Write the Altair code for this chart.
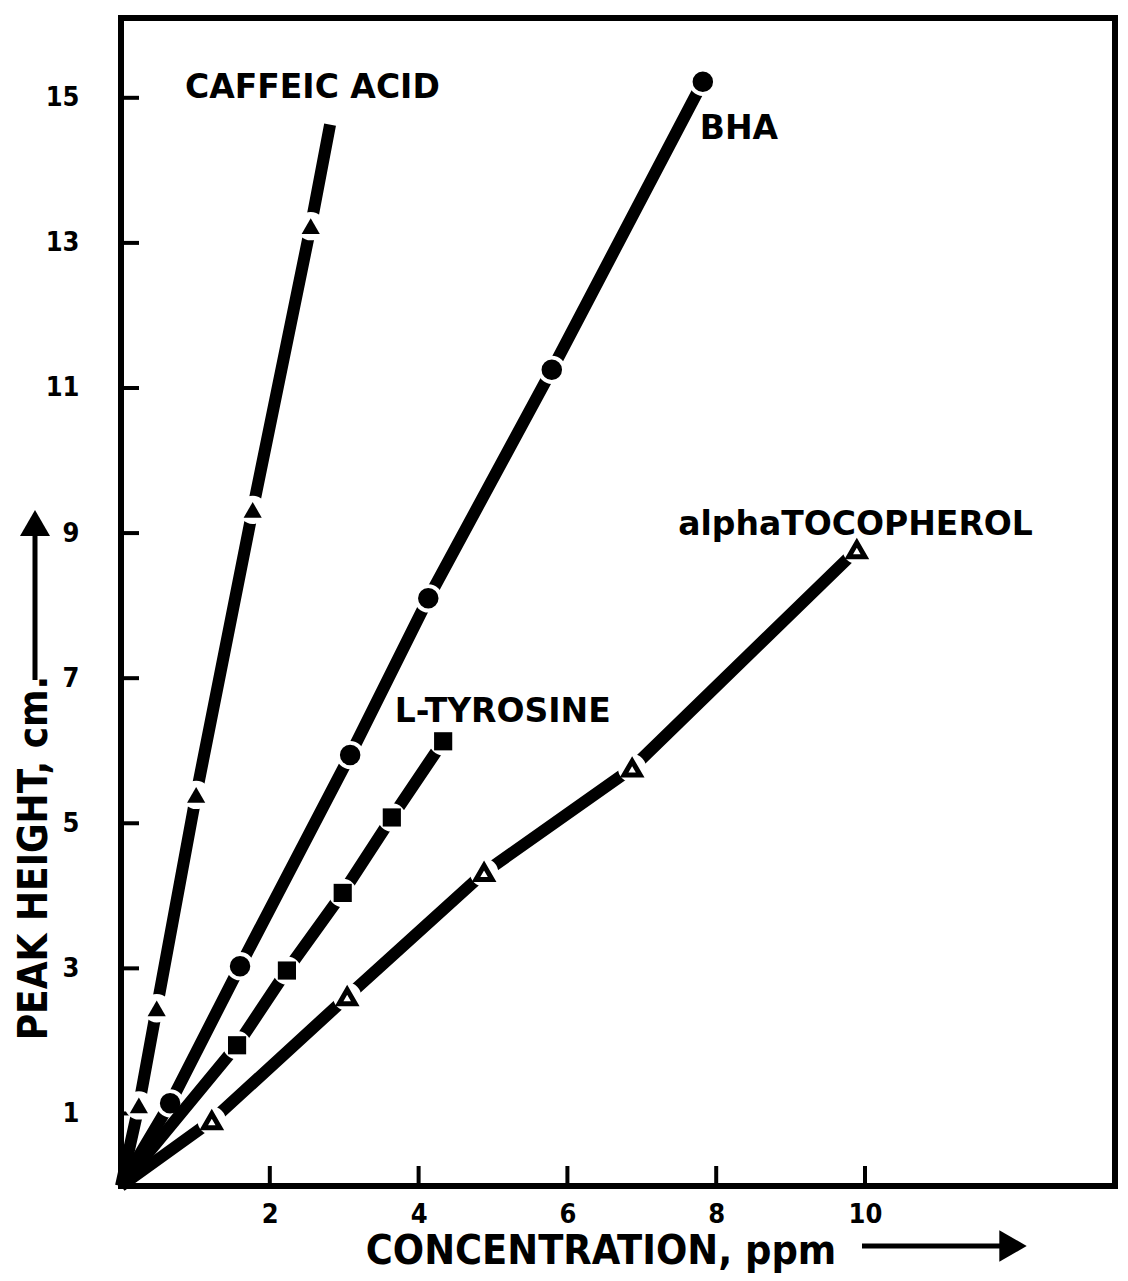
import altair as alt
import pandas as pd

# ---- data ----
caffeic_x = [0.24, 0.48, 1.01, 1.77, 2.55]
caffeic_y = [1.11, 2.45, 5.39, 9.32, 13.23]
caffeic_line_end_x = [2.81]
caffeic_line_end_y = [14.63]

bha_x = [0.66, 1.60, 3.08, 4.13, 5.79, 7.82]
bha_y = [1.14, 3.03, 5.94, 8.10, 11.25, 15.22]

tyr_x = [1.56, 2.23, 2.98, 3.64, 4.33]
tyr_y = [1.94, 2.97, 4.04, 5.08, 6.13]

toc_x = [1.22, 3.04, 4.88, 6.87, 9.89]
toc_y = [0.90, 2.61, 4.32, 5.76, 8.77]

x_ticks = [2, 4, 6, 8, 10]
y_ticks = [1, 3, 5, 7, 9, 11, 13, 15]

label_text = ["CAFFEIC ACID", "BHA", "L-TYROSINE", "alphaTOCOPHEROL"]
label_x = [0.86, 7.78, 3.68, 7.49]
label_y = [15.14, 14.57, 6.53, 9.11]

LABEL_FONT = "DejaVu Sans"
NARROW_FONT = "DejaVu Sans Condensed, Liberation Sans Narrow, DejaVu Sans"

def pts(xs, ys, name):
    return pd.DataFrame({"x": xs, "y": ys, "series": name})

def line_df(xs, ys, name, ex=None, ey=None):
    lx = [0.0] + list(xs) + (list(ex) if ex else [])
    ly = [0.0] + list(ys) + (list(ey) if ey else [])
    return pd.DataFrame({"x": lx, "y": ly, "series": name})

X = alt.X("x:Q",
          scale=alt.Scale(domain=[0, 13.36], nice=False, zero=False),
          axis=alt.Axis(values=x_ticks, ticks=False, domain=False, grid=False,
                        labelFont=NARROW_FONT, labelFontSize=27, labelFontWeight="bold",
                        labelColor="black", labelPadding=15, title=None))
Y = alt.Y("y:Q",
          scale=alt.Scale(domain=[0, 16.1], nice=False, zero=False),
          axis=alt.Axis(values=y_ticks, ticks=False, domain=False, grid=False,
                        labelFont=NARROW_FONT, labelFontSize=27, labelFontWeight="bold",
                        labelColor="black", labelPadding=42, title=None))

def series_layers(xs, ys, name, marker, ex=None, ey=None):
    line = alt.Chart(line_df(xs, ys, name, ex, ey)).mark_line(
        color="black", strokeWidth=12).encode(x=X, y=Y, order="x:Q")
    halo = alt.Chart(pts(xs, ys, name)).mark_point(
        filled=True, color="white", opacity=1, size=800, shape="circle",
        strokeWidth=0).encode(x=X, y=Y)
    mk = alt.Chart(pts(xs, ys, name)).mark_point(**marker).encode(x=X, y=Y)
    return [line, halo, mk]

layers = []

# inward ticks
layers.append(alt.Chart(pd.DataFrame({"y": y_ticks})).mark_rule(
    color="black", strokeWidth=4).encode(y=Y, x=alt.value(0), x2=alt.value(18)))
layers.append(alt.Chart(pd.DataFrame({"x": x_ticks})).mark_rule(
    color="black", strokeWidth=4).encode(x=X, y=alt.value(1168), y2=alt.value(1148)))

layers += series_layers(toc_x, toc_y, "alphaTOCOPHEROL",
                        dict(shape="triangle-up", filled=False, color="black",
                             strokeWidth=5, size=260, opacity=1))
layers += series_layers(bha_x, bha_y, "BHA",
                        dict(shape="circle", filled=True, color="black",
                             size=420, opacity=1))
layers += series_layers(tyr_x, tyr_y, "L-TYROSINE",
                        dict(shape="square", filled=True, color="black",
                             size=330, opacity=1))
layers += series_layers(caffeic_x, caffeic_y, "CAFFEIC ACID",
                        dict(shape="triangle-up", filled=True, color="black",
                             size=330, opacity=1),
                        caffeic_line_end_x, caffeic_line_end_y)

# series labels
labels = pd.DataFrame({"x": label_x, "y": label_y, "label": label_text})
layers.append(alt.Chart(labels).mark_text(
    align="left", baseline="middle", font=LABEL_FONT, fontSize=33, fontWeight="bold",
    color="black").encode(x=X, y=Y, text="label:N"))

# axis titles with arrows
layers.append(alt.Chart(pd.DataFrame({"a": [0]})).mark_text(
    text="PEAK HEIGHT, cm.", angle=270, align="center", baseline="middle",
    font=NARROW_FONT, fontSize=40, fontWeight="bold", color="black").encode(
    x=alt.value(-86), y=alt.value(840)))
layers.append(alt.Chart(pd.DataFrame({"a": [0]})).mark_rule(
    color="black", strokeWidth=5).encode(
    x=alt.value(-86), y=alt.value(662), y2=alt.value(515)))
layers.append(alt.Chart(pd.DataFrame({"a": [0]})).mark_point(
    shape="triangle-up", filled=True, color="black", size=900, opacity=1).encode(
    x=alt.value(-86), y=alt.value(505)))

layers.append(alt.Chart(pd.DataFrame({"a": [0]})).mark_text(
    text="CONCENTRATION, ppm", align="center", baseline="alphabetic",
    font=NARROW_FONT, fontSize=41, fontWeight="bold", color="black").encode(
    x=alt.value(480), y=alt.value(1246)))
layers.append(alt.Chart(pd.DataFrame({"a": [0]})).mark_rule(
    color="black", strokeWidth=5).encode(
    x=alt.value(741), x2=alt.value(880), y=alt.value(1228)))
layers.append(alt.Chart(pd.DataFrame({"a": [0]})).mark_point(
    shape="triangle-right", filled=True, color="black", size=1000, opacity=1).encode(
    x=alt.value(892), y=alt.value(1228)))

chart = alt.layer(*layers).properties(
    width=994, height=1168,
    autosize=alt.AutoSizeParams(type="none"),
    padding={"left": 113, "top": 10, "right": 5, "bottom": 87},
    background="white",
).configure_view(stroke="black", strokeWidth=6)

chart.save("out.html", embed_options={"renderer": "svg", "actions": False})
